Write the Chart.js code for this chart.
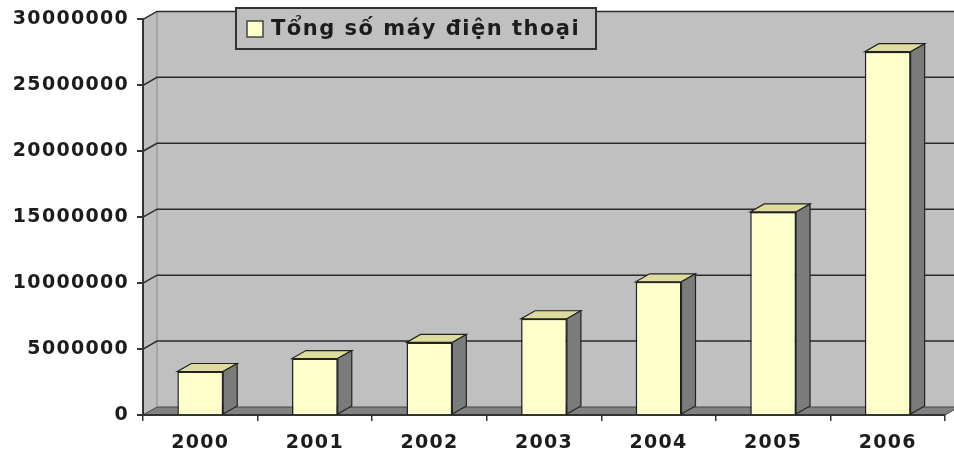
<!DOCTYPE html>
<html>
<head>
<meta charset="utf-8">
<script src="https://cdn.jsdelivr.net/npm/chart.js@4.4.0/dist/chart.umd.min.js"></script>
<style>
  html, body { margin: 0; padding: 0; background: #fff; }
  #wrap { width: 954px; height: 456px; }
</style>
</head>
<body>
<div id="wrap"><canvas id="chart"></canvas></div>
<script>
// Tổng số máy điện thoại theo năm
const years = ['2000', '2001', '2002', '2003', '2004', '2005', '2006'];
const phones = [3300000, 4280000, 5500000, 7300000, 10100000, 15400000, 27550000];
const yTicks = [0, 5000000, 10000000, 15000000, 20000000, 25000000, 30000000];
const seriesName = 'Tổng số máy điện thoại';

// depth offset of the pseudo-3D box (walls, floor, columns)
const DX = 14, DY = -8;
const FONT = 'DejaVu Sans';

function poly(ctx, pts, fill, stroke, lw) {
  ctx.beginPath();
  ctx.moveTo(pts[0][0], pts[0][1]);
  for (let i = 1; i < pts.length; i++) ctx.lineTo(pts[i][0], pts[i][1]);
  ctx.closePath();
  if (fill) { ctx.fillStyle = fill; ctx.fill(); }
  if (stroke) { ctx.strokeStyle = stroke; ctx.lineWidth = lw || 1; ctx.stroke(); }
}

// back wall, side wall, floor and gridlines
const walls = {
  id: 'walls',
  beforeDraw(chart) {
    const { ctx, chartArea: a, scales: { y } } = chart;
    const top = y.getPixelForValue(yTicks[yTicks.length - 1]);
    const base = y.getPixelForValue(0);
    ctx.save();
    ctx.fillStyle = '#c0c0c0';
    ctx.fillRect(a.left + DX, top + DY, a.right - a.left + 20, base - top);
    poly(ctx, [[a.left, top], [a.left + DX, top + DY], [a.left + DX, base + DY], [a.left, base]], '#bdbdbd');
    poly(ctx, [[a.left, base], [a.right, base], [a.right + DX, base + DY], [a.left + DX, base + DY]], '#818181', '#444', 1);

    ctx.strokeStyle = '#8a8a8a';
    ctx.lineWidth = 1;
    ctx.beginPath();
    ctx.moveTo(a.left + DX, top + DY);
    ctx.lineTo(a.left + DX, base + DY);
    ctx.stroke();

    ctx.strokeStyle = '#2a2a2a';
    ctx.lineWidth = 1.5;
    yTicks.forEach(v => {
      if (v === 0) return;
      const py = y.getPixelForValue(v);
      ctx.beginPath();
      ctx.moveTo(a.left, py);
      ctx.lineTo(a.left + DX, py + DY);
      ctx.lineTo(a.right + DX + 20, py + DY);
      ctx.stroke();
    });
    ctx.restore();
    // spacing for the wide bold tick labels
    ctx.letterSpacing = '1.3px';
  }
};

// top and right side faces of each column
const bar3d = {
  id: 'bar3d',
  afterDatasetsDraw(chart) {
    const ctx = chart.ctx;
    ctx.save();
    chart.getDatasetMeta(0).data.forEach(bar => {
      const { x, y, base, width } = bar.getProps(['x', 'y', 'base', 'width'], true);
      const l = x - width / 2, r = x + width / 2;
      poly(ctx, [[l, y], [r, y], [r + DX, y + DY], [l + DX, y + DY]], '#dedb9e', '#222', 1.2);
      poly(ctx, [[r, y], [r + DX, y + DY], [r + DX, base + DY], [r, base]], '#7b7b7b', '#222', 1.2);
    });
    ctx.restore();
  }
};

// legend box inside the plot
const legendBox = {
  id: 'legendBox',
  afterDraw(chart) {
    const { ctx, chartArea: a } = chart;
    const bx = a.left + 93, by = 8, bw = 360, bh = 41;
    ctx.save();
    ctx.fillStyle = '#c0c0c0';
    ctx.fillRect(bx, by, bw, bh);
    ctx.strokeStyle = '#333';
    ctx.lineWidth = 2;
    ctx.strokeRect(bx, by, bw, bh);
    ctx.fillStyle = '#ffffcc';
    ctx.fillRect(bx + 11, by + 13, 16, 16);
    ctx.lineWidth = 1.5;
    ctx.strokeStyle = '#444';
    ctx.strokeRect(bx + 11, by + 13, 16, 16);
    ctx.font = 'bold 21px "' + FONT + '"';
    ctx.letterSpacing = '1.5px';
    ctx.fillStyle = '#1c1c1c';
    ctx.textBaseline = 'middle';
    ctx.textAlign = 'left';
    ctx.fillText(chart.data.datasets[0].label, bx + 35, by + bh / 2 + 1);
    ctx.restore();
  }
};

new Chart(document.getElementById('chart'), {
  type: 'bar',
  data: {
    labels: years,
    datasets: [{
      label: seriesName,
      data: phones,
      backgroundColor: '#ffffcc',
      borderColor: '#222',
      borderWidth: 1.5,
      barPercentage: 0.4,
      categoryPercentage: 1
    }]
  },
  options: {
    responsive: true,
    maintainAspectRatio: false,
    animation: false,
    layout: { padding: { top: 17, right: 9, left: 0, bottom: 0 } },
    plugins: {
      legend: { display: false },
      tooltip: { enabled: false }
    },
    scales: {
      x: {
        afterFit: s => { s.height = 41; },
        grid: { display: true, drawOnChartArea: false, drawTicks: true, tickLength: 6, offset: true, color: '#333', lineWidth: 1.5 },
        border: { display: true, color: '#333', width: 2 },
        ticks: { color: '#1c1c1c', padding: 11, font: { family: FONT, size: 19, weight: 'bold' } }
      },
      y: {
        min: 0,
        max: 30000000,
        afterFit: s => { s.width = 143; },
        afterBuildTicks: s => { s.ticks = yTicks.map(v => ({ value: v })); },
        grid: { display: true, drawOnChartArea: false, drawTicks: true, tickLength: 6, color: '#333', lineWidth: 2 },
        border: { display: true, color: '#333', width: 2 },
        ticks: {
          color: '#1c1c1c',
          padding: 8,
          font: { family: FONT, size: 19, weight: 'bold' },
          callback: v => String(v)
        }
      }
    }
  },
  plugins: [walls, bar3d, legendBox]
});
</script>
</body>
</html>
